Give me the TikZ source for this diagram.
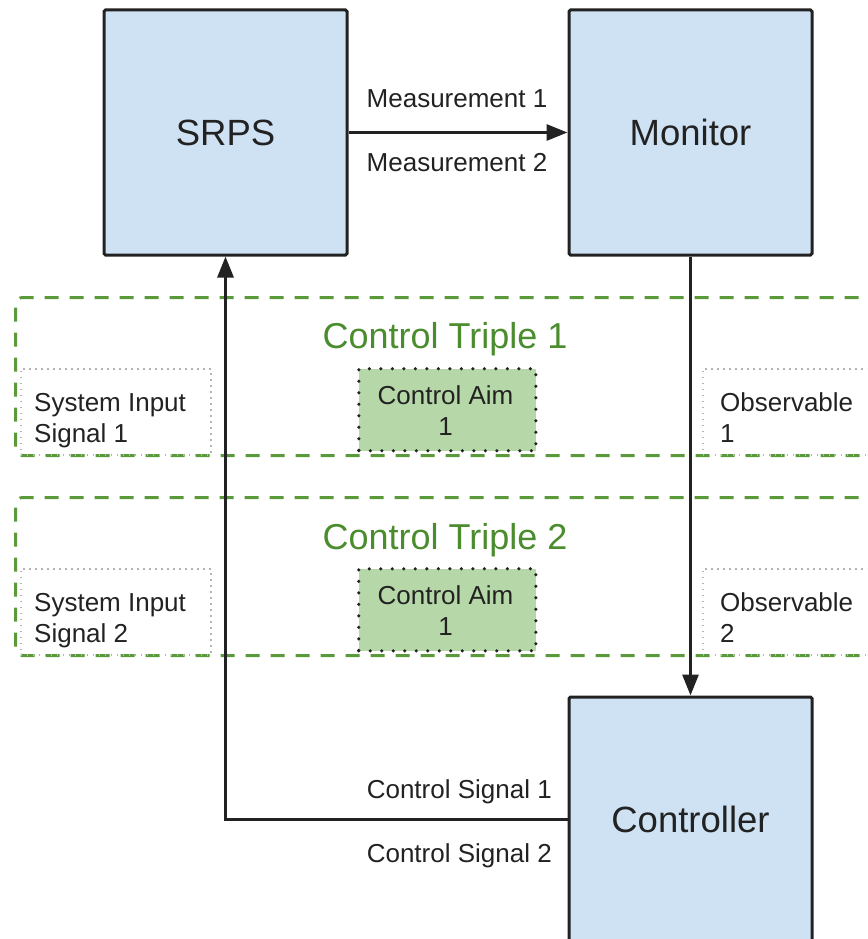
\documentclass[tikz,border=0pt]{standalone}
\usepackage{fontspec}
\setmainfont{Liberation Sans}
\usetikzlibrary{arrows.meta}
\definecolor{boxblue}{HTML}{CFE2F3}
\definecolor{aimgreen}{HTML}{B6D7A8}
\definecolor{tripgreen}{HTML}{5A9A3A}
\definecolor{titlegreen}{HTML}{4A8C2E}
\definecolor{ink}{HTML}{222222}
\definecolor{dotgray}{HTML}{B4B4B4}
\begin{document}
\begin{tikzpicture}[x=1pt,y=-1pt,
  block/.style={draw=ink, line width=3pt, fill=boxblue, rounded corners=1.5pt,
    minimum width=243pt, minimum height=245pt, inner sep=0pt,
    font=\fontsize{36.5}{40}\selectfont, text=ink},
  triple/.style={draw=tripgreen, line width=3pt, dash pattern=on 14pt off 11pt,
    rounded corners=7pt, minimum width=900pt, minimum height=158pt,
    anchor=north west, inner sep=0pt},
  tripletitle/.style={anchor=base, text=titlegreen, inner sep=0pt,
    font=\fontsize{36}{40}\selectfont},
  sidebox/.style={draw=dotgray, line width=1.5pt, dash pattern=on 1.5pt off 4.5pt,
    anchor=north west, minimum height=86pt, inner sep=0pt},
  aimbox/.style={draw=ink, fill=aimgreen, line width=3.5pt, line cap=round,
    dash pattern=on 0pt off 11.5pt, anchor=north west,
    minimum width=177pt, minimum height=82pt, inner sep=0pt},
  small/.style={inner sep=0pt, text=ink, font=\fontsize{26}{31}\selectfont},
  flow/.style={draw=ink, line width=3pt, -{Triangle[length=21pt,width=16pt]}}
]
\useasboundingbox (0,0) rectangle (867,939);
\clip (0,0) rectangle (867,939);

% control triples
\node[triple] (trip1) at (14,296) {};
\node[tripletitle] (trip1t) at (445,348) {Control Triple 1};
\node[triple] (trip2) at (14,496) {};
\node[tripletitle] (trip2t) at (445,549) {Control Triple 2};

% system inputs, aims and observables (multi-line text: base = last line)
\node[sidebox, minimum width=190pt] (sis1) at (20,368) {};
\node[small, anchor=base west, align=left] (sis1t) at (34,442) {System Input\\Signal 1};
\node[aimbox] (aim1) at (357,367) {};
\node[small, anchor=base, align=center] (aim1t) at (445.5,435) {Control Aim\\1};
\node[sidebox, minimum width=220pt] (obs1) at (702,368) {};
\node[small, anchor=base west, align=left] (obs1t) at (720,442) {Observable\\1};

\node[sidebox, minimum width=190pt] (sis2) at (20,568) {};
\node[small, anchor=base west, align=left] (sis2t) at (34,642) {System Input\\Signal 2};
\node[aimbox] (aim2) at (357,567) {};
\node[small, anchor=base, align=center] (aim2t) at (445.5,635) {Control Aim\\1};
\node[sidebox, minimum width=220pt] (obs2) at (702,568) {};
\node[small, anchor=base west, align=left] (obs2t) at (720,642) {Observable\\2};

% main blocks
\node[block] (srps) at (225.5,132.5) {SRPS};
\node[block] (monitor) at (690.5,132.5) {Monitor};
\node[block] (controller) at (690.5,819.5) {Controller};

% signal flow
\draw[flow] (srps.east) -- (monitor.west);
\draw[flow] (monitor.south) -- (controller.north);
\draw[flow] (controller.west) -| (srps.south);

% connector labels
\node[small, anchor=base] (meas1) at (457,108) {Measurement 1};
\node[small, anchor=base] (meas2) at (457,171) {Measurement 2};
\node[small, anchor=base east] (cs1) at (552,798) {Control Signal 1};
\node[small, anchor=base east] (cs2) at (552,862) {Control Signal 2};
\end{tikzpicture}
\end{document}
